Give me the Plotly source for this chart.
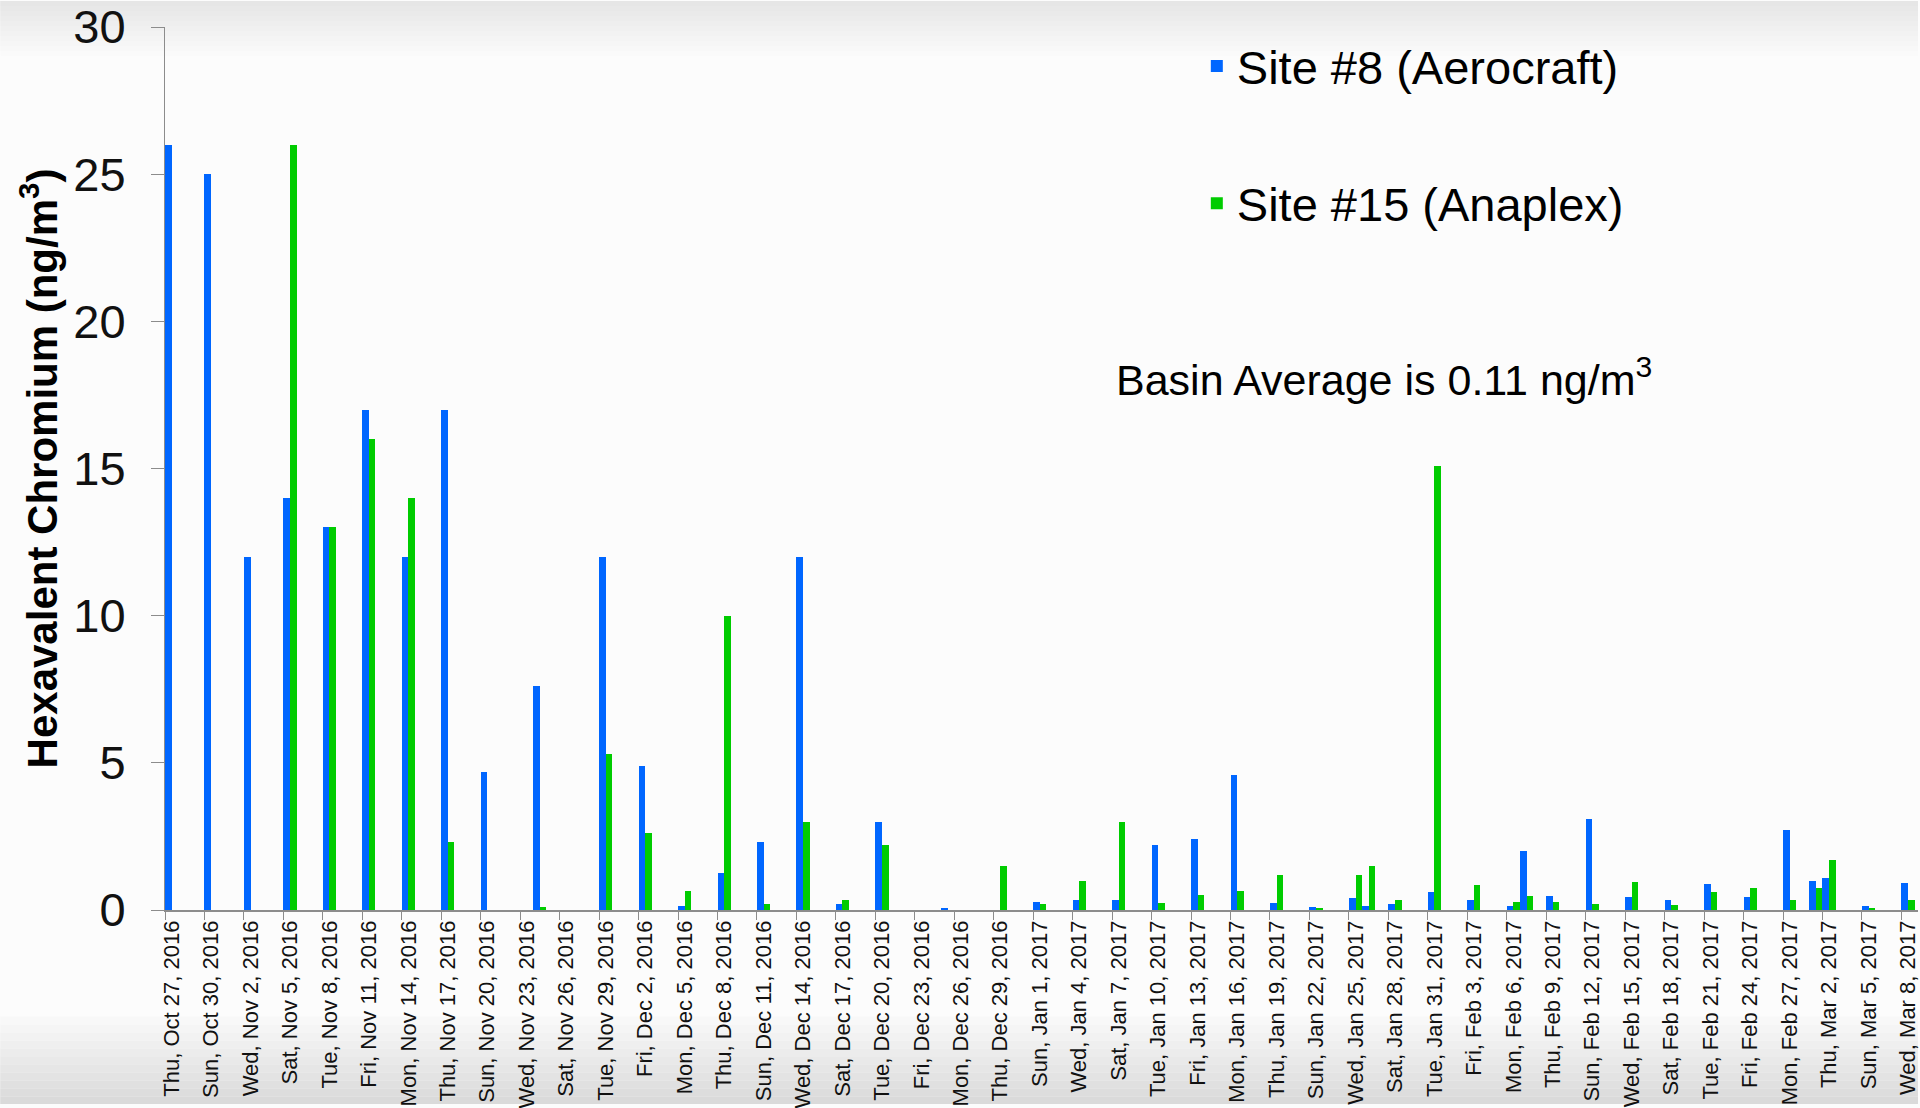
import plotly.graph_objects as go

# ---- data ----
sample_dates = [
    "2016-10-27", "2016-10-30", "2016-11-02", "2016-11-05", "2016-11-08", "2016-11-11",
    "2016-11-14", "2016-11-17", "2016-11-20", "2016-11-24", "2016-11-29", "2016-12-02",
    "2016-12-05", "2016-12-08", "2016-12-11", "2016-12-14", "2016-12-17", "2016-12-20",
    "2016-12-25", "2016-12-29", "2017-01-01", "2017-01-04", "2017-01-07", "2017-01-10",
    "2017-01-13", "2017-01-16", "2017-01-19", "2017-01-22", "2017-01-25", "2017-01-26",
    "2017-01-28", "2017-01-31", "2017-02-03", "2017-02-06", "2017-02-07", "2017-02-09",
    "2017-02-12", "2017-02-15", "2017-02-18", "2017-02-21", "2017-02-24", "2017-02-27",
    "2017-03-01", "2017-03-02", "2017-03-05", "2017-03-08",
]
site8_aerocraft = [
    26, 25, 12, 14, 13, 17,
    12, 17, 4.7, 7.6, 12, 4.9,
    0.15, 1.25, 2.3, 12, 0.2, 3.0,
    0.05, 0, 0.27, 0.35, 0.35, 2.2,
    2.4, 4.6, 0.25, 0.1, 0.4, 0.13,
    0.2, 0.6, 0.35, 0.13, 2.0, 0.47,
    3.1, 0.44, 0.35, 0.87, 0.44, 2.72,
    1.0, 1.08, 0.13, 0.91,
]
site15_anaplex = [
    0, 0, 0, 26, 13, 16,
    14, 2.3, 0, 0.1, 5.3, 2.6,
    0.65, 10, 0.2, 3.0, 0.35, 2.2,
    0, 1.5, 0.22, 1.0, 3.0, 0.25,
    0.5, 0.65, 1.2, 0.05, 1.2, 1.5,
    0.35, 15.1, 0.85, 0.26, 0.47, 0.26,
    0.21, 0.95, 0.17, 0.61, 0.74, 0.35,
    0.74, 1.7, 0.05, 0.35,
]
series_names = ["Site #8 (Aerocraft)", "Site #15 (Anaplex)"]
y_ticks = [0, 5, 10, 15, 20, 25, 30]
first_label_date = "2016-10-27"
label_step_days = 3
annotation_text = "Basin Average is 0.11 ng/m<sup>3</sup>"
y_title = "Hexavalent Chromium (ng/m<sup>3</sup>)"

# ---- style ----
BLUE = "#0066FF"
GREEN = "#00CC00"
FONT = "Liberation Sans, Arial, sans-serif"
W, H = 1920, 1108
ML, MR, MT, MB = 165, 0, 26, 195
DAY_MS = 86400000

fig = go.Figure()
fig.add_trace(go.Bar(x=sample_dates, y=site8_aerocraft, name=series_names[0],
                     marker=dict(color=BLUE, line=dict(width=0)), legendgroup="a"))
fig.add_trace(go.Bar(x=sample_dates, y=site15_anaplex, name=series_names[1],
                     marker=dict(color=GREEN, line=dict(width=0)), legendgroup="b"))

# background gradient bands (slide look)
plot_h = H - MT - MB
def ypaper(py):
    return (H - MB - py) / plot_h

shapes = []
top_bands = 12
for i in range(top_bands):
    y0p, y1p = i * 5, (i + 1) * 5
    c = int(230 + (252 - 230) * i / (top_bands - 1))
    shapes.append(dict(type="rect", xref="paper", yref="paper",
                       x0=-ML / (W - ML - MR), x1=1.0, y0=ypaper(y1p), y1=ypaper(y0p),
                       fillcolor=f"rgb({c},{c},{c})", line=dict(width=0), layer="below"))
bot_bands = 12
for i in range(bot_bands):
    y0p = 1012 + i * 8
    y1p = y0p + 8
    c = int(252 - (252 - 218) * i / (bot_bands - 1))
    shapes.append(dict(type="rect", xref="paper", yref="paper",
                       x0=-ML / (W - ML - MR), x1=1.0, y0=ypaper(min(y1p, H)), y1=ypaper(y0p),
                       fillcolor=f"rgb({c},{c},{c})", line=dict(width=0), layer="below"))

fig.update_layout(
    width=W, height=H,
    margin=dict(l=ML, r=MR, t=MT, b=MB, pad=0),
    paper_bgcolor="#fcfcfc",
    plot_bgcolor="rgba(0,0,0,0)",
    barmode="group", bargap=0, bargroupgap=0,
    font=dict(family=FONT, color="#000000"),
    shapes=shapes,
    legend=dict(
        x=(1198 - ML) / (W - ML - MR), y=ypaper(28), xanchor="left", yanchor="top",
        font=dict(size=47, family=FONT, color="#000000"),
        bgcolor="rgba(0,0,0,0)", tracegroupgap=73, itemwidth=30,
    ),
    annotations=[dict(
        text=annotation_text, xref="paper", yref="paper",
        x=(1115 - ML) / (W - ML - MR), y=ypaper(378), xanchor="left", yanchor="middle",
        showarrow=False, font=dict(size=43, family=FONT, color="#000000"),
    )],
)

fig.update_xaxes(
    type="date",
    range=["2016-10-26 12:00", "2017-03-08 18:15"],
    tickmode="linear", tick0=first_label_date, dtick=label_step_days * DAY_MS,
    tickformat="%a, %b %-d, %Y", tickangle=-90,
    tickfont=dict(size=22, family=FONT, color="#111111"),
    ticklabeloverflow="allow",
    ticks="", showgrid=False, zeroline=False,
    showline=True, linecolor="#8c8c8c", linewidth=1.5,
    minor=dict(ticks="outside", ticklen=8, tickcolor="#8c8c8c", tickwidth=1,
               tickmode="linear", tick0="2016-10-26 12:00", dtick=label_step_days * DAY_MS,
               showgrid=False),
)
fig.update_yaxes(
    range=[0, 30], tickmode="array", tickvals=y_ticks,
    tickfont=dict(size=47, family=FONT, color="#111111"),
    ticklabeloverflow="allow",
    ticks="outside", ticklen=13, tickcolor="#8c8c8c", tickwidth=1,
    ticklabelstandoff=16,
    showgrid=False, zeroline=False,
    showline=True, linecolor="#8c8c8c", linewidth=1,
    title=dict(text=y_title, font=dict(size=42, family=FONT, color="#000000", weight="bold"),
               standoff=2),
)

fig.write_html("out.html", config={"displayModeBar": False},
               post_script="document.body.style.margin='0';")
